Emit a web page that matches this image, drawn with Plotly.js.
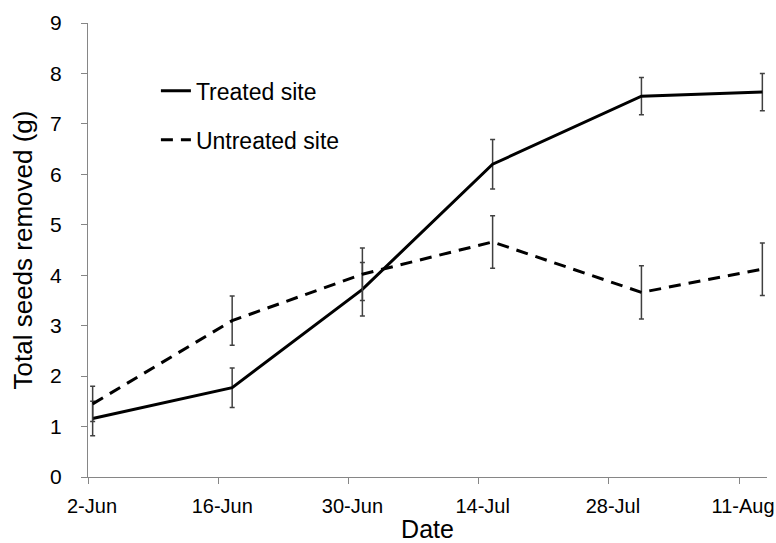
<!DOCTYPE html>
<html>
<head>
<meta charset="utf-8">
<script src="https://cdn.plot.ly/plotly-3.0.1.min.js"></script>
<style>html,body{margin:0;padding:0;background:#fff;}#chart{width:776px;height:543px;}</style>
</head>
<body>
<div id="chart"></div>
<script>
// Data
const dates = ['2011-06-02', '2011-06-17', '2011-07-01', '2011-07-15', '2011-07-31', '2011-08-13'];
const treated = [1.16, 1.77, 3.72, 6.20, 7.55, 7.63];
const treatedErr = [0.34, 0.39, 0.53, 0.49, 0.37, 0.37];
const untreated = [1.45, 3.10, 4.02, 4.66, 3.66, 4.12];
const untreatedErr = [0.35, 0.49, 0.52, 0.52, 0.53, 0.52];
const tickDates = ['2011-06-02', '2011-06-16', '2011-06-30', '2011-07-14', '2011-07-28', '2011-08-11'];
const tickLabels = ['2-Jun', '16-Jun', '30-Jun', '14-Jul', '28-Jul', '11-Aug'];

// Excel-style date axis: points sit in the middle of their day
function shiftHalfDay(d) {
  const t = new Date(d + 'T00:00:00Z').getTime() - 12 * 3600 * 1000;
  return new Date(t).toISOString().slice(0, 19).replace('T', ' ');
}
const tickvals = tickDates.map(shiftHalfDay);
const rangeX = [shiftHalfDay('2011-06-02'), shiftHalfDay('2011-08-14')];

const font = 'Liberation Sans, Arial, sans-serif';
const errColor = '#404040';

const traces = [
  {
    x: dates, y: treated, name: 'Treated site', type: 'scatter', mode: 'lines',
    line: {color: '#000', width: 3},
    error_y: {type: 'data', array: treatedErr, visible: true, color: errColor, thickness: 1.5, width: 2.5},
    legendgroup: 'a'
  },
  {
    x: dates, y: untreated, name: 'Untreated site', type: 'scatter', mode: 'lines',
    line: {color: '#000', width: 3, dash: '12px,8px'},
    error_y: {type: 'data', array: untreatedErr, visible: true, color: errColor, thickness: 1.5, width: 2.5},
    legendgroup: 'b'
  }
];

const layout = {
  width: 776, height: 543,
  margin: {l: 88, r: 9, t: 23, b: 66},
  paper_bgcolor: '#fff', plot_bgcolor: '#fff',
  font: {family: font, color: '#000', size: 20},
  showlegend: true,
  legend: {
    x: 0.1, y: 0.898, xanchor: 'left', yanchor: 'top',
    traceorder: 'grouped', tracegroupgap: 16,
    font: {family: font, size: 23, color: '#000'},
    bgcolor: 'rgba(0,0,0,0)'
  },
  xaxis: {
    type: 'date', range: rangeX,
    tickmode: 'array', tickvals: tickvals, ticktext: tickLabels,
    showgrid: false, zeroline: false,
    showline: true, linecolor: '#868686', linewidth: 1,
    ticks: 'outside', ticklen: 6, tickcolor: '#868686', tickwidth: 1,
    tickfont: {family: font, size: 20, color: '#000'},
    ticklabelstandoff: 5, ticklabelshift: 4,
    title: {text: 'Date', font: {family: font, size: 25, color: '#000'}, standoff: 6},
    automargin: false
  },
  yaxis: {
    range: [0, 9], tickmode: 'linear', tick0: 0, dtick: 1,
    showgrid: false, zeroline: false,
    showline: true, linecolor: '#868686', linewidth: 1,
    ticks: 'outside', ticklen: 6, tickcolor: '#868686', tickwidth: 1,
    tickfont: {family: font, size: 21, color: '#000'},
    ticklabelstandoff: 15,
    title: {text: 'Total seeds removed (g)', font: {family: font, size: 26, color: '#000'}, standoff: 10},
    automargin: false
  }
};

Plotly.newPlot('chart', traces, layout, {displayModeBar: false, staticPlot: true});
</script>
</body>
</html>
